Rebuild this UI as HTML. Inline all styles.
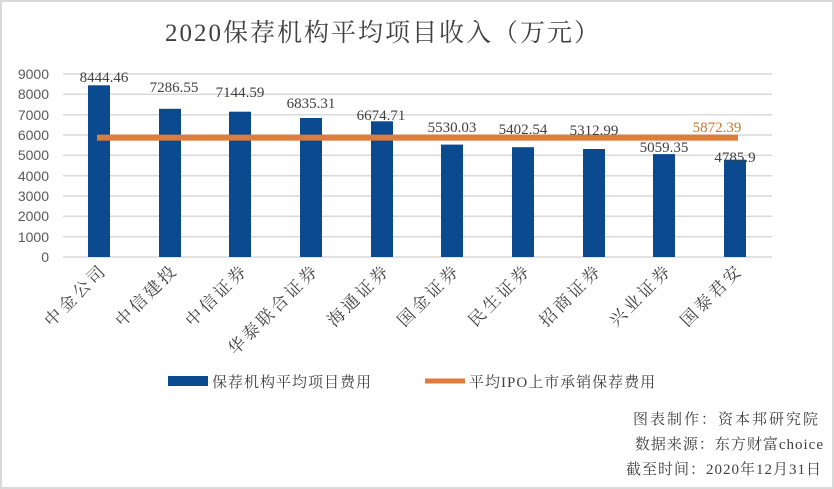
<!DOCTYPE html>
<html><head><meta charset="utf-8"><style>
body{margin:0;background:#fff}
svg{display:block;font-family:"Liberation Serif","Noto Serif CJK SC",serif}
</style></head><body>
<svg width="834" height="489" viewBox="0 0 834 489" xmlns="http://www.w3.org/2000/svg">
<rect x="1" y="1" width="832" height="487" fill="#fff" stroke="#d9d9d9" stroke-width="2"/>
<text x="383" y="41" font-size="25" letter-spacing="2" text-anchor="middle" fill="#404040">2020保荐机构平均项目收入（万元）</text>
<g stroke="#d9d9d9" stroke-width="1.5">
<line x1="63" x2="772" y1="74" y2="74"/><line x1="63" x2="772" y1="94.3" y2="94.3"/>
<line x1="63" x2="772" y1="114.7" y2="114.7"/><line x1="63" x2="772" y1="135" y2="135"/>
<line x1="63" x2="772" y1="155.3" y2="155.3"/><line x1="63" x2="772" y1="175.7" y2="175.7"/>
<line x1="63" x2="772" y1="196" y2="196"/><line x1="63" x2="772" y1="216.3" y2="216.3"/>
<line x1="63" x2="772" y1="236.7" y2="236.7"/><line x1="63" x2="772" y1="257" y2="257"/>
</g>
<g font-family="Liberation Sans,sans-serif" font-size="14" fill="#595959" text-anchor="end">
<text x="49" y="79">9000</text><text x="49" y="99">8000</text><text x="49" y="120">7000</text>
<text x="49" y="140">6000</text><text x="49" y="160">5000</text><text x="49" y="181">4000</text>
<text x="49" y="201">3000</text><text x="49" y="221">2000</text><text x="49" y="242">1000</text>
<text x="49" y="262">0</text></g>
<g fill="#0b4a8f">
<rect x="88" y="85.3" width="22" height="171.7"/>
<rect x="159" y="108.8" width="22" height="148.2"/>
<rect x="229" y="111.7" width="22" height="145.3"/>
<rect x="300" y="118" width="22" height="139"/>
<rect x="371" y="121.3" width="22" height="135.7"/>
<rect x="441" y="144.6" width="22" height="112.4"/>
<rect x="512" y="147.2" width="22" height="109.8"/>
<rect x="583" y="149" width="22" height="108"/>
<rect x="653" y="154.1" width="22" height="102.9"/>
<rect x="724" y="159.7" width="22" height="97.3"/>
</g>
<line x1="97" x2="738" y1="137.6" y2="137.6" stroke="#e07b39" stroke-width="6"/>
<g font-size="15" fill="#404040" text-anchor="middle">
<text x="104" y="82">8444.46</text><text x="174" y="92">7286.55</text>
<text x="240" y="97">7144.59</text><text x="311" y="108">6835.31</text>
<text x="381" y="120">6674.71</text><text x="452" y="132">5530.03</text>
<text x="523" y="134">5402.54</text><text x="594" y="135">5312.99</text>
<text x="664" y="152">5059.35</text><text x="735" y="162">4785.9</text>
<text x="717" y="132" fill="#c47a2c">5872.39</text>
</g>
<g font-size="17" letter-spacing="3" fill="#404040" text-anchor="end">
<text transform="translate(108,271) rotate(-45)">中金公司</text>
<text transform="translate(179,271) rotate(-45)">中信建投</text>
<text transform="translate(249,271) rotate(-45)">中信证券</text>
<text transform="translate(320,271) rotate(-45)">华泰联合证券</text>
<text transform="translate(391,271) rotate(-45)">海通证券</text>
<text transform="translate(461,271) rotate(-45)">国金证券</text>
<text transform="translate(532,271) rotate(-45)">民生证券</text>
<text transform="translate(603,271) rotate(-45)">招商证券</text>
<text transform="translate(673,271) rotate(-45)">兴业证券</text>
<text transform="translate(744,271) rotate(-45)">国泰君安</text>
</g>
<rect x="168" y="376" width="40" height="10" fill="#0b4a8f"/>
<text x="212" y="387" font-size="15" letter-spacing="1" fill="#404040">保荐机构平均项目费用</text>
<line x1="425" x2="465" y1="381" y2="381" stroke="#e07b39" stroke-width="5"/>
<text x="469" y="387" font-size="15" letter-spacing="1" fill="#404040">平均IPO上市承销保荐费用</text>
<g font-size="15" fill="#404040" text-anchor="end">
<text x="820" y="424" letter-spacing="2">图表制作：资本邦研究院</text>
<text x="824" y="449" letter-spacing="1">数据来源：东方财富choice</text>
<text x="822" y="474" letter-spacing="1">截至时间：2020年12月31日</text>
</g>
</svg>
</body></html>
